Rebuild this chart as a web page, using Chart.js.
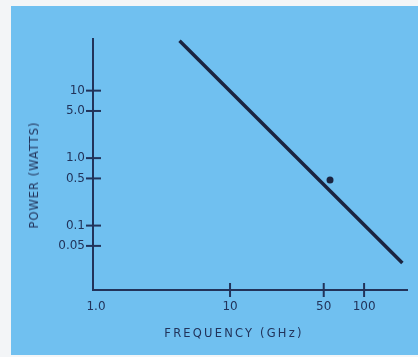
<!DOCTYPE html>
<html>
<head>
<meta charset="utf-8">
<script src="https://cdn.jsdelivr.net/npm/chart.js@4.4.1/dist/chart.umd.min.js"></script>
<style>
  html, body { margin: 0; padding: 0; background: #f3f5f7; }
  #wrap { position: relative; width: 418px; height: 357px; overflow: hidden; }
  #panel { position: absolute; left: 11px; top: 6px; width: 407px; height: 349px; background: #70c0f0; }
  #chart-box { position: absolute; left: 0; top: 0; width: 418px; height: 357px; }
  .axis-title { position: absolute; font-family: 'DejaVu Sans', sans-serif; font-size: 11.5px; color: #22335a; white-space: nowrap; }
  #y-title { left: 34px; top: 175px; transform: translate(-50%, -50%) rotate(-90deg); letter-spacing: 1px; }
  #x-title { left: 234px; top: 333px; transform: translate(-50%, -50%); letter-spacing: 2.2px; }
</style>
</head>
<body>
<div id="wrap">
  <div id="panel"></div>
  <div id="chart-box"><canvas id="chart-power"></canvas></div>
  <div class="axis-title" id="y-title">POWER (WATTS)</div>
  <div class="axis-title" id="x-title">FREQUENCY (GHz)</div>
</div>
<script>
// Power vs frequency, log-log

const xTickValues = [1, 10, 50, 100];
const xTickLabels = ['1.0', '10', '50', '100'];
const yTickValues = [0.05, 0.1, 0.5, 1, 5, 10];
const yTickLabels = ['0.05', '0.1', '0.5', '1.0', '5.0', '10'];

// trend line end points (GHz, watts)
const lineFreq = [4.2, 193];
const linePower = [55, 0.028];

// single measured point
const pointFreq = [55.7];
const pointPower = [0.475];

const ink = '#1b2440';
const labelInk = '#22335a';

// tick marks that cross the axis line
const crossTicks = {
    id: 'crossTicks',
    afterDraw(chart) {
        const ctx = chart.ctx;
        const area = chart.chartArea;
        const xs = chart.scales.x;
        const ys = chart.scales.y;
        ctx.save();
        ctx.strokeStyle = labelInk;
        ctx.lineWidth = 2;
        xs.ticks.forEach(t => {
            if (t.value === xTickValues[0]) return;
            const px = xs.getPixelForValue(t.value);
            ctx.beginPath();
            ctx.moveTo(px, area.bottom - 7);
            ctx.lineTo(px, area.bottom + 7);
            ctx.stroke();
        });
        ys.ticks.forEach(t => {
            const py = ys.getPixelForValue(t.value);
            ctx.beginPath();
            ctx.moveTo(area.left - 7, py);
            ctx.lineTo(area.left + 8, py);
            ctx.stroke();
        });
        ctx.restore();
    }
};

document.addEventListener('DOMContentLoaded', () => {
    const ctx = document.getElementById('chart-power');
    new Chart(ctx, {
        type: 'scatter',
        data: {
            datasets: [{
                label: 'Trend',
                data: lineFreq.map((f, i) => ({ x: f, y: linePower[i] })),
                showLine: true,
                borderColor: ink,
                borderWidth: 3.5,
                pointRadius: 0,
                pointHoverRadius: 0
            }, {
                label: 'Measured',
                data: pointFreq.map((f, i) => ({ x: f, y: pointPower[i] })),
                backgroundColor: ink,
                borderColor: ink,
                pointRadius: 3.5,
                borderWidth: 0
            }]
        },
        options: {
            responsive: true,
            maintainAspectRatio: false,
            animation: false,
            layout: {
                padding: { left: 0, top: 39, right: 11, bottom: 0 }
            },
            plugins: {
                legend: { display: false },
                tooltip: { enabled: false }
            },
            scales: {
                x: {
                    type: 'logarithmic',
                    min: 0.95,
                    max: 209,
                    afterBuildTicks: function(scale) {
                        scale.ticks = xTickValues.map(v => ({ value: v }));
                    },
                    afterFit: function(scale) {
                        scale.height = 67;
                    },
                    ticks: {
                        autoSkip: false,
                        maxRotation: 0,
                        padding: 10,
                        color: labelInk,
                        font: { family: "'DejaVu Sans', sans-serif", size: 12 },
                        callback: function(value) {
                            const i = xTickValues.indexOf(value);
                            return i >= 0 ? xTickLabels[i] : '';
                        }
                    },
                    grid: { display: false, drawTicks: false },
                    border: { display: true, color: labelInk, width: 2 }
                },
                y: {
                    type: 'logarithmic',
                    min: 0.0111,
                    max: 58.3,
                    afterBuildTicks: function(scale) {
                        scale.ticks = yTickValues.map(v => ({ value: v }));
                    },
                    afterFit: function(scale) {
                        scale.width = 93;
                    },
                    ticks: {
                        autoSkip: false,
                        padding: 8,
                        color: labelInk,
                        font: { family: "'DejaVu Sans', sans-serif", size: 12 },
                        callback: function(value) {
                            const i = yTickValues.indexOf(value);
                            return i >= 0 ? yTickLabels[i] : '';
                        }
                    },
                    grid: { display: false, drawTicks: false },
                    border: { display: true, color: labelInk, width: 2 }
                }
            }
        },
        plugins: [crossTicks]
    });
});
</script>
</body>
</html>
